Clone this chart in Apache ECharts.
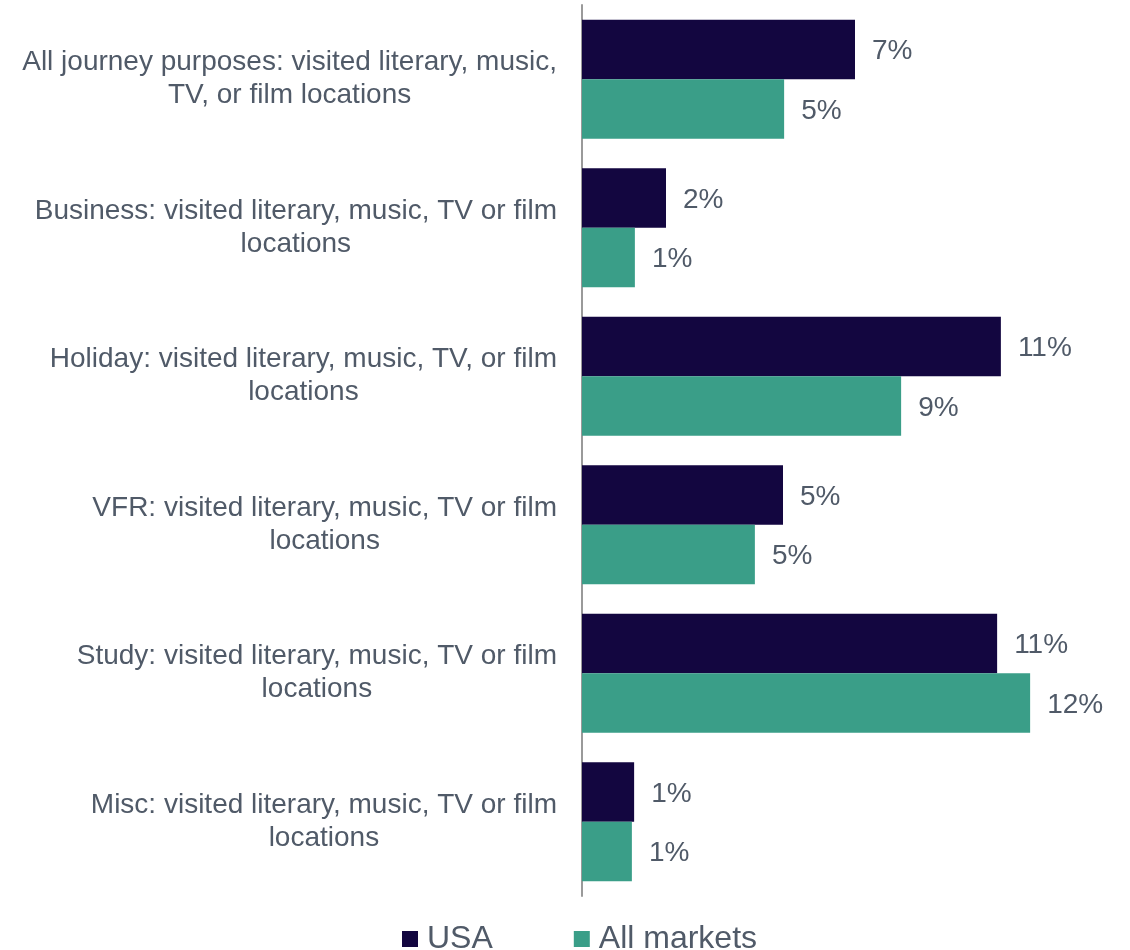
<!DOCTYPE html>
<html>
	<head>
		<meta charset="utf-8">
		<title>Visited literary, music, TV or film locations</title>
		<style>
			html, body {
				width: 100%;
				height: 100%;
				margin: 0;
				padding: 0;
				background: #fff;
			}
			#main {
				width: 1130px;
				height: 950px;
			}
		</style>
	</head>
	<body>
		<div id="main"></div>
		<script src="https://cdn.jsdelivr.net/npm/echarts@6/dist/echarts.min.js"></script>
		<script>
			var categories = [
				"All journey purposes: visited literary, music,\nTV, or film locations",
				"Business: visited literary, music, TV or film\nlocations",
				"Holiday: visited literary, music, TV, or film\nlocations",
				"VFR: visited literary, music, TV or film\nlocations",
				"Study: visited literary, music, TV or film\nlocations",
				"Misc: visited literary, music, TV or film\nlocations"
			];
			var usa = [7.28, 2.24, 11.17, 5.36, 11.07, 1.39];
			var allMarkets = [5.39, 1.41, 8.51, 4.61, 11.95, 1.33];
			var seriesNames = ["USA", "All markets"];

			var textColor = "#505a68";
			var font = "Liberation Sans, Arial, sans-serif";

			function pct(p) {
				return Math.round(p.value) + "%";
			}

			var barLabel = {
				show: true,
				position: "right",
				distance: 17,
				offset: [0, 2],
				fontSize: 28,
				fontFamily: font,
				color: textColor,
				formatter: pct
			};

			var chart = echarts.init(document.getElementById("main"), null, {renderer: "canvas"});
			chart.setOption({
				animation: false,
				textStyle: {fontFamily: font},
				grid: {
					left: 582,
					right: 23,
					top: 5,
					bottom: 54,
					outerBoundsMode: "none"
				},
				legend: {
					data: seriesNames,
					left: 402,
					top: 923,
					padding: 0,
					icon: "rect",
					itemWidth: 16,
					itemHeight: 16,
					itemGap: 81,
					textStyle: {
						fontSize: 32,
						fontFamily: font,
						color: textColor,
						padding: [0, 0, 0, 4]
					}
				},
				xAxis: {
					type: "value",
					min: 0,
					max: 14,
					show: false
				},
				yAxis: {
					type: "category",
					data: categories,
					inverse: true,
					axisTick: {show: false},
					axisLine: {
						show: true,
						lineStyle: {color: "#9a9a9a", width: 2}
					},
					axisLabel: {
						margin: 25,
						formatter: function(v) {
							return v.split("\n").map(function(s) {
								return "{a|" + s + "}";
							}).join("\n");
						},
						rich: {
							a: {
								fontSize: 28,
								lineHeight: 33,
								fontFamily: font,
								color: textColor,
								align: "center"
							}
						}
					}
				},
				series: [
					{
						name: seriesNames[0],
						type: "bar",
						data: usa,
						barGap: "0%",
						barCategoryGap: "20%",
						itemStyle: {color: "#130640"},
						label: barLabel
					},
					{
						name: seriesNames[1],
						type: "bar",
						data: allMarkets,
						barGap: "0%",
						barCategoryGap: "20%",
						itemStyle: {color: "#3a9e88"},
						label: barLabel
					}
				]
			});
		</script>
	</body>
</html>
